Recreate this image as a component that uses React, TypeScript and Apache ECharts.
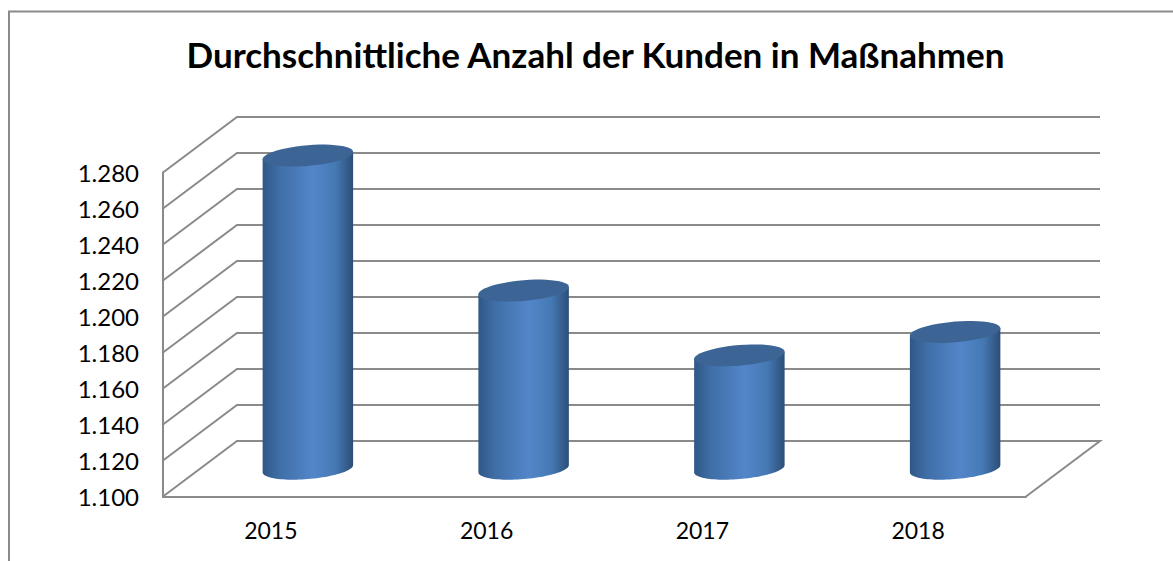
import React, { useEffect, useRef } from "react";
import * as echarts from "echarts";

const titleText = "Durchschnittliche Anzahl der Kunden in Maßnahmen";
const categories = ["2015", "2016", "2017", "2018"];
const values = [1274, 1199, 1163, 1176];
const yMin = 1100;
const yMax = 1280;
const yStep = 20;
const wallTicks = [1100, 1120, 1140, 1160, 1180, 1200, 1220, 1240, 1260, 1280];

const LINE = "#8a8a8a";
const DEPTH_X = 74;
const DEPTH_Y = -55.5;
const FONT = "Lato, Carlito, sans-serif";

const fmt = (v: number) => String(v).replace(/(\d)(\d{3})$/, "$1.$2");

function renderWall(params: any, api: any) {
  const v = api.value(1);
  const cs = params.coordSys;
  const y = api.coord([0, v])[1];
  const left = cs.x;
  const right = cs.x + cs.width;
  const pts: number[][] = [
    [left, y],
    [left + DEPTH_X, y + DEPTH_Y],
    [right + DEPTH_X, y + DEPTH_Y],
  ];
  if (v === yMin) pts.push([right, y]);
  return {
    type: "polyline",
    shape: { points: pts },
    style: { stroke: LINE, lineWidth: 2, fill: "none" },
  };
}

// Points on a tilted ellipse, walking from parameter t0 to t1.
function arcPoints(cx: number, cy: number, rx: number, ry: number, th: number, t0: number, t1: number) {
  const n = 48;
  const pts: number[][] = [];
  for (let k = 0; k <= n; k++) {
    const t = t0 + ((t1 - t0) * k) / n;
    pts.push([
      cx + rx * Math.cos(t) * Math.cos(th) - ry * Math.sin(t) * Math.sin(th),
      cy + rx * Math.cos(t) * Math.sin(th) + ry * Math.sin(t) * Math.cos(th),
    ]);
  }
  return pts;
}

function renderCylinder(_params: any, api: any) {
  const i = api.value(0);
  const v = api.value(1);
  const top = api.coord([i, v]);
  const base = api.coord([i, yMin]);
  const band = api.size([1, 0])[0];
  const cx = top[0] + DEPTH_X / 2;
  const cyTop = top[1] + DEPTH_Y / 2;
  const cyBase = base[1] + DEPTH_Y / 2;
  const rx = band * 0.2104;
  const ry = 10.3;
  const th = (-4.87 * Math.PI) / 180;
  const t0 = Math.atan((-(ry / rx)) * Math.tan(th));
  const lowerBase = arcPoints(cx, cyBase, rx, ry, th, t0 + Math.PI, t0);
  const capPts = arcPoints(cx, cyTop, rx, ry, th, t0, t0 + 2 * Math.PI);
  const topLower = arcPoints(cx, cyTop, rx, ry, th, t0, t0 + Math.PI);
  const body = [...lowerBase, ...topLower.slice(0, 1), ...topLower.slice(-1)];
  return {
    type: "group",
    children: [
      {
        type: "polygon",
        shape: { points: body },
        style: {
          fill: new echarts.graphic.LinearGradient(0, 0, 1, 0, [
            { offset: 0, color: "#2f5787" },
            { offset: 0.18, color: "#3f6ea6" },
            { offset: 0.55, color: "#5286c9" },
            { offset: 0.8, color: "#467ab5" },
            { offset: 1, color: "#2c4e78" },
          ]),
        },
      },
      {
        type: "polygon",
        shape: { points: capPts },
        style: { fill: "#3c6595" },
      },
    ],
  };
}

export default function App() {
  const ref = useRef<HTMLDivElement>(null);
  useEffect(() => {
    const chart = echarts.init(ref.current!, null, { renderer: "svg" });
    chart.setOption({
      animation: false,
      backgroundColor: "#ffffff",
      title: {
        text: titleText,
        left: 590.5,
        top: 31,
        textAlign: "center",
        textStyle: { fontFamily: FONT, fontWeight: "bold", fontSize: 35, color: "#000000" },
      },
      graphic: [
        {
          type: "polyline",
          shape: { points: [[9, 561], [9, 11.5], [1173, 11.5]] },
          style: { stroke: LINE, lineWidth: 2, fill: "none" },
        },
      ],
      grid: { left: 163, top: 172.5, width: 863, height: 324 },
      xAxis: {
        type: "category",
        data: categories,
        axisTick: { show: false },
        axisLine: { lineStyle: { color: LINE, width: 2 } },
        axisLabel: { margin: 22, fontFamily: FONT, fontSize: 23, color: "#000000" },
        splitLine: { show: false },
      },
      yAxis: {
        type: "value",
        min: yMin,
        max: yMax,
        interval: yStep,
        axisTick: { show: false },
        axisLine: { show: true, lineStyle: { color: LINE, width: 2 } },
        axisLabel: {
          margin: 24,
          fontFamily: FONT,
          fontSize: 24,
          color: "#000000",
          formatter: (v: number) => fmt(v),
        },
        splitLine: { show: false },
      },
      series: [
        {
          type: "custom",
          name: "wall",
          z: 1,
          silent: true,
          renderItem: renderWall,
          encode: { x: 0, y: 1 },
          data: wallTicks.map((v) => [0, v]),
        },
        {
          type: "custom",
          name: "Kunden",
          z: 3,
          renderItem: renderCylinder,
          encode: { x: 0, y: 1 },
          data: values.map((v, i) => [i, v]),
        },
      ],
    });
    return () => chart.dispose();
  }, []);
  return (
    <div
      ref={ref}
      style={{ position: "fixed", left: 0, top: 0, width: 1173, height: 561 }}
    />
  );
}
